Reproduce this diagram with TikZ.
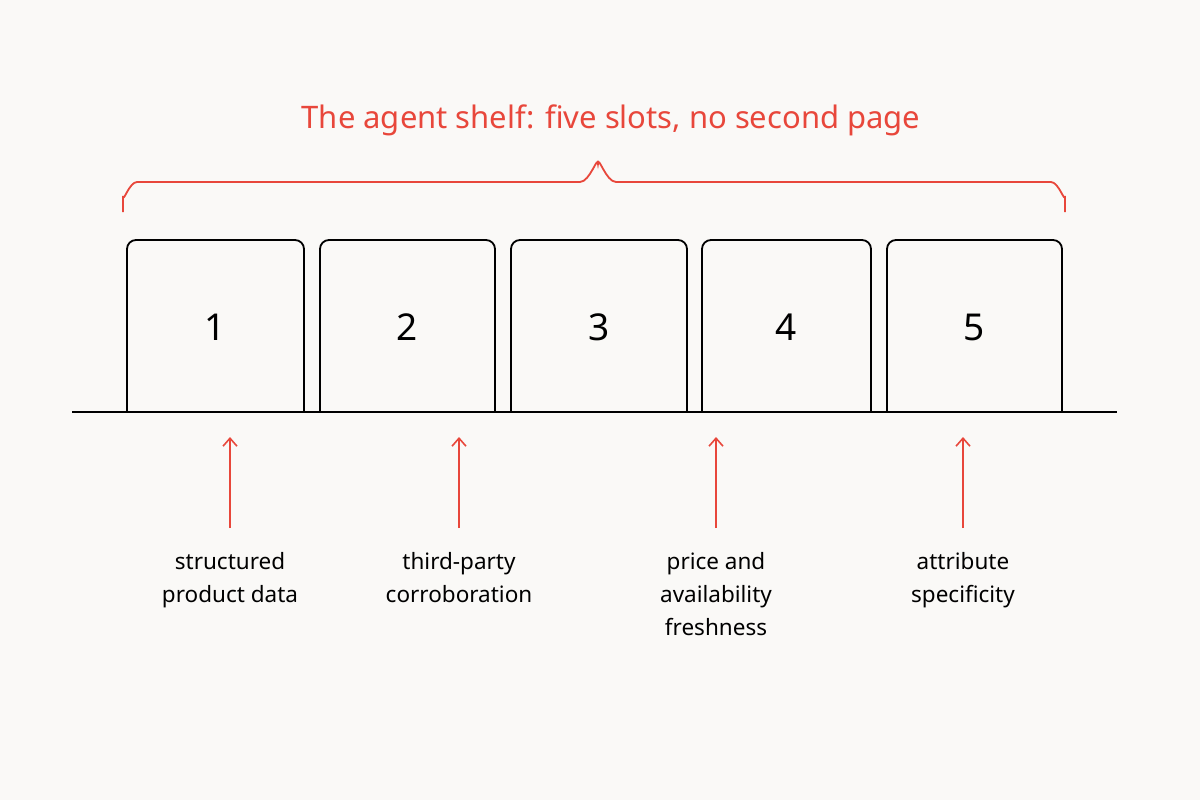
\documentclass[tikz,border=0pt]{standalone}
\usepackage{fontspec}
\setmainfont{Noto Sans}
\definecolor{bg}{HTML}{FAF9F7}
\definecolor{rd}{HTML}{E8473B}
\begin{document}
\begin{tikzpicture}[x=1pt,y=-1pt,
  slot/.style={draw=black,line width=1.8pt,rounded corners=9pt},
  num/.style={font=\fontsize{37}{37}\selectfont},
  lab/.style={font=\fontsize{22.5}{33}\selectfont,align=center,anchor=north},
  arr/.style={draw=rd,line width=1.6pt,-{Straight Barb[length=8pt,width=14pt]}}]
\usetikzlibrary{arrows.meta}
\fill[bg] (0,0) rectangle (1200,800);
\useasboundingbox (0,0) rectangle (1200,800);
\node[text=rd,font=\fontsize{31}{34}\selectfont] (title) at (611,120) {The agent shelf: five slots, no second page};
\draw[rd,line width=1.8pt] (123,212) -- (123,196) to[out=-90,in=180] (137,182) -- (580,182) to[out=0,in=90] (598,164) to[out=90,in=180] (616,182) -- (1051,182) to[out=0,in=-90] (1065,196) -- (1065,212);
\foreach \i/\a/\b in {1/127/304,2/320/495,3/511/687,4/702/871,5/887/1062}{
  \draw[slot] (\a,412) -- (\a,240) -- (\b,240) -- (\b,412);
  \node[num] (n\i) at ({(\a+\b)/2},327) {\i};
}
\draw[line width=1.8pt] (72,412) -- (1117,412);
\foreach \k/\x/\t in {a/230/{structured\\product data},b/459/{third-party\\corroboration},c/716/{price and\\availability\\freshness},d/963/{attribute\\specificity}}{
  \coordinate (s\k) at (\x,528);
  \coordinate (e\k) at (\x,437);
  \draw[arr] (s\k) -- (e\k);
  \node[lab] (l\k) at (\x,549) {\t};
}
\end{tikzpicture}
\end{document}
